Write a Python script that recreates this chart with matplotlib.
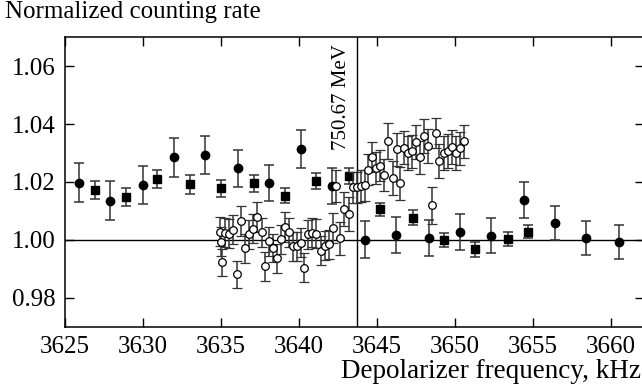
import numpy as np
import matplotlib
matplotlib.use('Agg')
import matplotlib.pyplot as plt

plt.rcParams['font.family'] = ['Liberation Serif', 'DejaVu Serif']

# filled circles
fc_x = [3625.9, 3627.9, 3630.0, 3632.0, 3634.0, 3636.1, 3638.1, 3640.1, 3642.1,
        3644.2, 3646.2, 3648.3, 3650.3, 3652.3, 3654.4, 3656.4, 3658.4, 3660.5]
fc_y = [1.0198, 1.0136, 1.0189, 1.0285, 1.0293, 1.0247, 1.0197, 1.0313, 1.0186,
        1.0001, 1.0016, 1.0005, 1.0027, 1.0014, 1.0137, 1.0059, 1.0007, 0.9992]
fc_err = [0.0067, 0.0067, 0.0066, 0.0066, 0.0067, 0.0063, 0.0063, 0.0066, 0.0063,
          0.0063, 0.0062, 0.0062, 0.0061, 0.0060, 0.0062, 0.0059, 0.0058, 0.0059]

# filled squares
sq_x = [3626.9, 3628.9, 3630.9, 3633.0, 3635.0, 3637.1, 3639.1, 3641.1, 3643.2,
        3645.2, 3647.3, 3649.3, 3651.3, 3653.4, 3654.7]
sq_y = [1.0172, 1.0148, 1.0209, 1.0192, 1.0178, 1.0195, 1.0153, 1.0203, 1.0220,
        1.0105, 1.0077, 0.9999, 0.9967, 1.0002, 1.0028]
sq_err = [0.0032, 0.0032, 0.0031, 0.0032, 0.0029, 0.0028, 0.0027, 0.0028, 0.0028,
          0.0024, 0.0026, 0.0025, 0.0026, 0.0024, 0.0023]

# open circles
oc_x = [3634.95, 3635.0, 3635.05, 3635.25, 3635.5, 3635.8, 3636.05, 3636.3, 3636.55,
        3636.8, 3637.05, 3637.3, 3637.6, 3637.85, 3638.1, 3638.35, 3638.6, 3638.85,
        3639.1, 3639.35, 3639.6, 3639.85, 3640.1, 3640.35, 3640.6, 3640.85, 3641.1,
        3641.4, 3641.65, 3641.9, 3642.15, 3642.4, 3642.65, 3642.9, 3643.2, 3643.45,
        3643.7, 3643.95, 3644.2, 3644.45, 3644.7, 3644.95, 3645.2, 3645.45, 3645.7,
        3646.0, 3646.25, 3646.5, 3646.75, 3647.0, 3647.25, 3647.5, 3647.75, 3648.0,
        3648.25, 3648.5, 3648.8, 3649.0, 3649.3, 3649.55, 3649.8, 3650.05, 3650.3,
        3650.55]
oc_y = [1.0028, 0.9993, 0.9922, 1.0024, 1.0021, 1.0035, 0.9881, 1.0065, 0.9971,
        1.0020, 1.0038, 1.0080, 1.0027, 0.9909, 0.9996, 0.9972, 0.9937, 1.0002,
        1.0045, 1.0027, 0.9978, 0.9978, 0.9990, 0.9903, 1.0020, 1.0024, 1.0022,
        0.9962, 0.9979, 0.9985, 1.0041, 1.0187, 1.0005, 1.0107, 1.0089, 1.0181,
        1.0181, 1.0186, 1.0188, 1.0243, 1.0286, 1.0247, 1.0257, 1.0223, 1.0341,
        1.0213, 1.0313, 1.0195, 1.0319, 1.0301, 1.0306, 1.0338, 1.0285, 1.0359,
        1.0324, 1.0119, 1.0368, 1.0272, 1.0301, 1.0308, 1.0321, 1.0301, 1.0316,
        1.0340]
oc_err = [0.0050, 0.0050, 0.0046, 0.0050, 0.0050, 0.0050, 0.0046, 0.0052, 0.0050,
          0.0050, 0.0050, 0.0052, 0.0050, 0.0050, 0.0050, 0.0050, 0.0050, 0.0050,
          0.0052, 0.0050, 0.0050, 0.0050, 0.0050, 0.0050, 0.0050, 0.0050, 0.0050,
          0.0050, 0.0050, 0.0050, 0.0052, 0.0055, 0.0058, 0.0058, 0.0058, 0.0055,
          0.0055, 0.0055, 0.0055, 0.0055, 0.0052, 0.0055, 0.0055, 0.0055, 0.0062,
          0.0058, 0.0058, 0.0058, 0.0058, 0.0058, 0.0058, 0.0058, 0.0058, 0.0058,
          0.0058, 0.0065, 0.0052, 0.0058, 0.0058, 0.0058, 0.0058, 0.0058, 0.0058,
          0.0058]

res_freq = 3643.74
xticks = [3625, 3630, 3635, 3640, 3645, 3650, 3655, 3660]
yticks = [0.98, 1.00, 1.02, 1.04, 1.06]

fig = plt.figure(figsize=(6.42, 3.92), dpi=100)
# right spine sits just past the image edge, as in the original
ax = fig.add_axes([65/642, (392-326.7)/392, 578.5/642, 289.4/392])

ax.axhline(1.0, color='black', lw=1.0, zorder=1)
ax.axvline(res_freq, color='black', lw=1.0, zorder=1)

ekw = dict(ecolor='#333333', elinewidth=1.1, capsize=3.8, capthick=1.1, ls='none')
ax.errorbar(fc_x, fc_y, yerr=fc_err, fmt='o', ms=6, mfc='black', mec='black', zorder=3, **ekw)
ax.errorbar(sq_x, sq_y, yerr=sq_err, fmt='s', ms=5.5, mfc='black', mec='black', zorder=3, **ekw)
ax.errorbar(oc_x, oc_y, yerr=oc_err, fmt='o', ms=5.5, mfc='white', mec='black', mew=0.9, zorder=4, **ekw)

ax.set_xlim(3625, 3662.08)
ax.set_ylim(0.97, 1.07)
ax.set_xticks(xticks)
ax.set_yticks(yticks)
ax.set_yticklabels([f'{v:.2f}' for v in yticks])
ax.tick_params(direction='in', length=6.5, width=1, top=True, right=True,
               labelsize=18, pad=7, colors='black')
for s in ax.spines.values():
    s.set_linewidth(1.1)

ax.text(3643.3, 1.0675, '750.67 MeV', rotation=90, ha='right', va='top', fontsize=15)

fig.text(5/642, 1 - 12/392, 'Normalized counting rate', ha='left', va='center', fontsize=18)
fig.text(641/642, 1 - 372/392, 'Depolarizer frequency, kHz', ha='right', va='center', fontsize=19.5)

fig.savefig('out.png', dpi=100)
